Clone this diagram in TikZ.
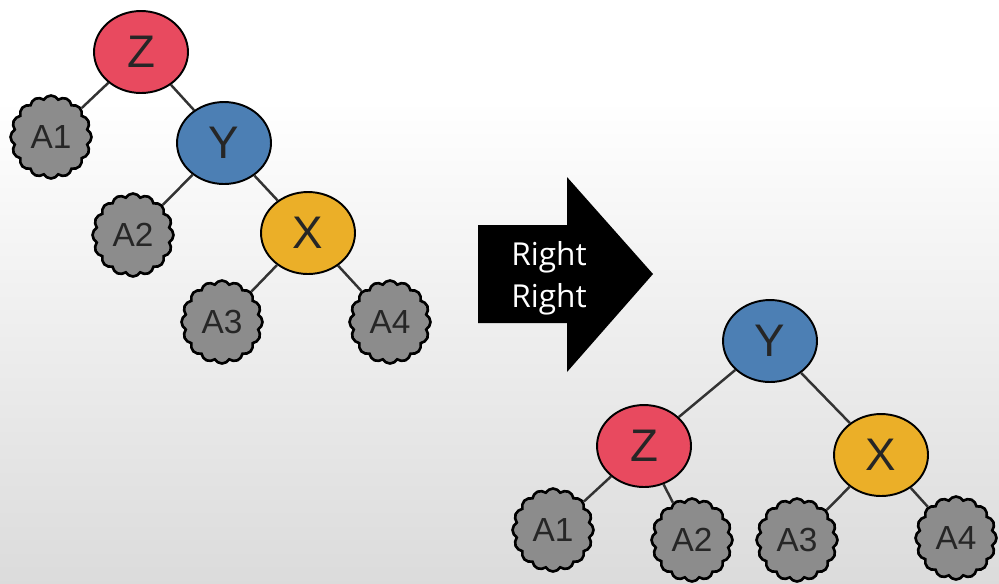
\documentclass[tikz,border=0pt]{standalone}
\usepackage{fontspec}
\setmainfont{Liberation Sans}
\newfontfamily\arrowfont{Open Sans}
\usetikzlibrary{shapes.geometric, shapes.symbols}

\definecolor{zred}{HTML}{E84A5F}
\definecolor{yblue}{HTML}{4C7FB4}
\definecolor{xyellow}{HTML}{EBAF28}
\definecolor{cloudgray}{HTML}{8C8C8C}

\begin{document}
\begin{tikzpicture}[
    x=0.02cm,
    y=-0.02cm,
    keynode/.style={
        draw,
        ellipse,
        line width=1.1pt,
        minimum width=1.88cm,
        minimum height=1.64cm,
        text=black!85,
        font=\fontsize{26}{30}\selectfont
    },
    subtree/.style={
        draw,
        cloud,
        cloud puffs=16,
        cloud puff arc=120,
        aspect=1,
        minimum width=1.62cm,
        minimum height=1.66cm,
        inner sep=0pt,
        fill=cloudgray,
        line width=1.5pt,
        text=black!85,
        font=\fontsize{19}{21}\selectfont
    },
    link/.style={
        draw=black!80,
        line width=1.4pt
    }
]

% Background
\useasboundingbox (0,0) rectangle (999,583);
\fill[white] (0,0) rectangle (999,100);
\shade[top color=white, middle color=black!6, bottom color=black!14] (0,100) rectangle (999,583);

% Tree before rotation
\node[keynode, fill=zred] (z) at (141,52) {Z};
\node[keynode, fill=yblue] (y) at (224,143) {Y};
\node[keynode, fill=xyellow] (x) at (308,233) {X};
\node[subtree] (a1) at (51,137) {A1};
\node[subtree] (a2) at (133,235) {A2};
\node[subtree] (a3) at (222,322) {A3};
\node[subtree] (a4) at (390,322) {A4};

% Tree after rotation
\node[keynode, fill=yblue] (y2) at (770,341) {Y};
\node[keynode, fill=zred] (z2) at (644,446) {Z};
\node[keynode, fill=xyellow] (x2) at (881,455) {X};
\node[subtree] (b1) at (553,530) {A1};
\node[subtree] (b2) at (692,540) {A2};
\node[subtree] (b3) at (797,540) {A3};
\node[subtree] (b4) at (956,538) {A4};

% Rotation arrow
\fill[black] (478,225) -- (567,225) -- (567,177) -- (653,274) -- (567,372) -- (567,323) -- (478,323) -- cycle;
\node[text=white, align=center, font=\arrowfont\fontsize{18}{24}\selectfont] (rot) at (549,278) {Right\\Right};

% Links before
\draw[link] (z) -- (a1);
\draw[link] (z) -- (y);
\draw[link] (y) -- (a2);
\draw[link] (y) -- (x);
\draw[link] (x) -- (a3);
\draw[link] (x) -- (a4);

% Links after
\draw[link] (y2) -- (z2);
\draw[link] (y2) -- (x2);
\draw[link] (z2) -- (b1);
\draw[link] (z2) -- (b2);
\draw[link] (x2) -- (b3);
\draw[link] (x2) -- (b4);

\end{tikzpicture}
\end{document}
